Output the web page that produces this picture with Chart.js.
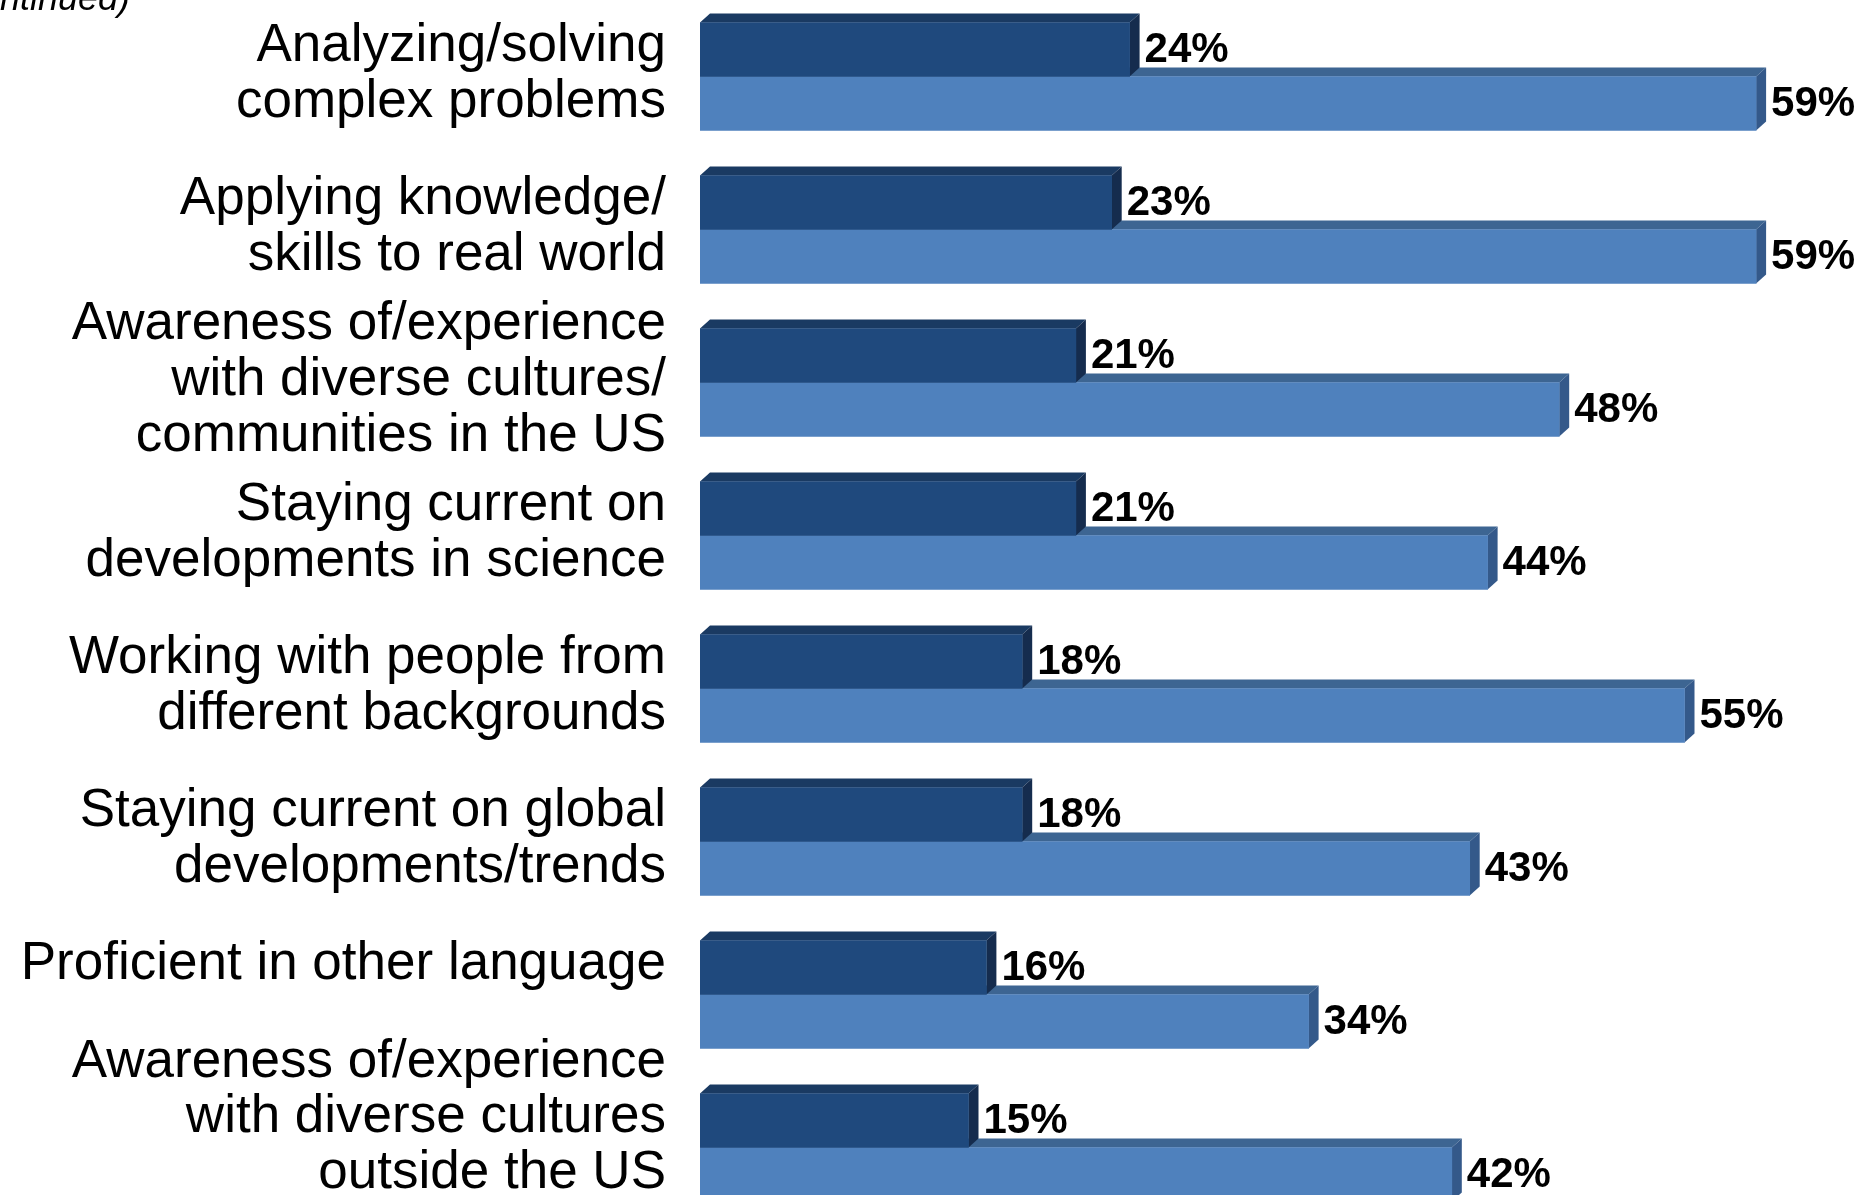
<!DOCTYPE html>
<html>
<head>
<meta charset="utf-8">
<title>Skills</title>
<script src="https://cdn.jsdelivr.net/npm/chart.js@4.4.1/dist/chart.umd.min.js"></script>
<style>
  html, body { margin: 0; padding: 0; background: #fff; }
  #wrap { width: 1859px; height: 1195px; overflow: hidden; }
  #skillsChart { display: block; }
</style>
</head>
<body>
<div id="wrap"><canvas id="skillsChart" width="1859" height="1224"></canvas></div>
<script>
// trailing '' lines lift the single-line / last label a little
const categories = [
  ['Analyzing/solving', 'complex problems'],
  ['Applying knowledge/', 'skills to real world'],
  ['Awareness of/experience', 'with diverse cultures/', 'communities in the US'],
  ['Staying current on', 'developments in science'],
  ['Working with people from', 'different backgrounds'],
  ['Staying current on global', 'developments/trends'],
  ['Proficient in other language', ''],
  ['Awareness of/experience', 'with diverse cultures', 'outside the US', '']
];
const preparedValues = [24, 23, 21, 21, 18, 18, 16, 15];
const importantValues = [59, 59, 48, 44, 55, 43, 34, 42];
const axisMax = 60;

const labelFont = '"Liberation Sans", Arial, Helvetica, sans-serif';

// fake 3D: top face and end face behind each bar
const depthX = 10;
const depthY = 9;
const faceColors = [
  { top: '#1a3a62', side: '#152c4e' },
  { top: '#3d6592', side: '#34598a' }
];

const barDepth = {
  id: 'barDepth',
  beforeDatasetsDraw(chart) {
    const ctx = chart.ctx;
    ctx.save();
    // lower (light) bars first so the dark ones sit over them
    for (let d = chart.data.datasets.length - 1; d >= 0; d--) {
      chart.getDatasetMeta(d).data.forEach(bar => {
        const top = bar.y - bar.height / 2;
        const bottom = bar.y + bar.height / 2;
        ctx.fillStyle = faceColors[d].top;
        ctx.beginPath();
        ctx.moveTo(bar.base, top);
        ctx.lineTo(bar.x, top);
        ctx.lineTo(bar.x + depthX, top - depthY);
        ctx.lineTo(bar.base + depthX, top - depthY);
        ctx.closePath();
        ctx.fill();

        ctx.fillStyle = faceColors[d].side;
        ctx.beginPath();
        ctx.moveTo(bar.x, top);
        ctx.lineTo(bar.x + depthX, top - depthY);
        ctx.lineTo(bar.x + depthX, bottom - depthY);
        ctx.lineTo(bar.x, bottom);
        ctx.closePath();
        ctx.fill();
      });
    }
    ctx.restore();
  }
};

const valueLabels = {
  id: 'valueLabels',
  afterDatasetsDraw(chart) {
    const ctx = chart.ctx;
    ctx.save();
    ctx.font = 'bold 42px ' + labelFont;
    ctx.fillStyle = '#000';
    ctx.textAlign = 'left';
    ctx.textBaseline = 'middle';
    chart.data.datasets.forEach((ds, d) => {
      chart.getDatasetMeta(d).data.forEach((bar, i) => {
        ctx.fillText(ds.data[i] + '%', bar.x + 15, bar.y + 1);
      });
    });
    ctx.restore();
  }
};

const continuedNote = {
  id: 'continuedNote',
  afterDraw(chart) {
    const ctx = chart.ctx;
    ctx.save();
    ctx.font = 'italic 36px ' + labelFont;
    ctx.fillStyle = '#000';
    ctx.textAlign = 'right';
    ctx.textBaseline = 'alphabetic';
    ctx.fillText('(continued)', 130, 10);
    ctx.restore();
  }
};

new Chart(document.getElementById('skillsChart'), {
  type: 'bar',
  data: {
    labels: categories,
    datasets: [
      {
        label: 'Recent graduates well prepared',
        data: preparedValues,
        backgroundColor: '#1f497d'
      },
      {
        label: 'Very important to employers',
        data: importantValues,
        backgroundColor: '#4f81bd'
      }
    ]
  },
  options: {
    indexAxis: 'y',
    responsive: false,
    animation: false,
    datasets: {
      bar: { barThickness: 54 }
    },
    layout: {
      padding: { left: 0, right: 85, top: 0, bottom: 0 }
    },
    plugins: {
      legend: { display: false },
      tooltip: { enabled: false }
    },
    scales: {
      x: {
        display: false,
        min: 0,
        max: axisMax
      },
      y: {
        grid: { display: false, drawTicks: false },
        border: { display: false },
        ticks: {
          autoSkip: false,
          color: '#000',
          padding: 34,
          labelOffset: -2,
          font: { family: labelFont, size: 53, lineHeight: 1.05 }
        },
        afterFit(scale) {
          scale.width = 700;
          scale.paddingTop = 0;
          scale.paddingBottom = 0;
        }
      }
    }
  },
  plugins: [barDepth, valueLabels, continuedNote]
});
</script>
</body>
</html>
